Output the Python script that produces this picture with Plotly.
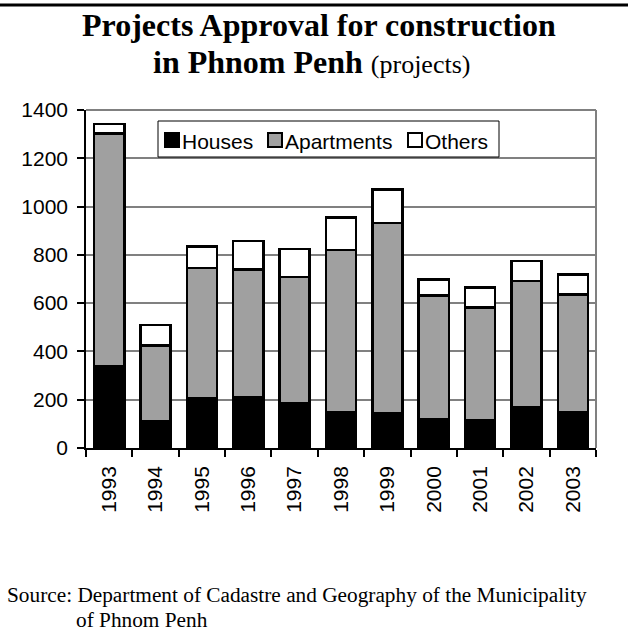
import plotly.graph_objects as go

years = ["1993", "1994", "1995", "1996", "1997", "1998", "1999", "2000", "2001", "2002", "2003"]
houses = [340, 110, 205, 210, 185, 148, 142, 118, 115, 168, 148]
apartments = [963, 315, 540, 530, 523, 673, 790, 514, 467, 524, 487]
others = [40, 85, 90, 118, 116, 133, 138, 65, 82, 82, 84]
y_ticks = [0, 200, 400, 600, 800, 1000, 1200, 1400]
series_names = ["Houses", "Apartments", "Others"]
series_colors = ["black", "#a0a0a0", "white"]

W, H = 628, 642
L, R, T, B = 86, 32, 110, 194
pw, ph = W - L - R, H - T - B


def px_x(x):
    return (x - L) / pw


def px_y(y):
    return (H - B - y) / ph


serif = "Liberation Serif, Times New Roman, serif"
sans = "Liberation Sans, Arial, sans-serif"

line = dict(color="black", width=2.5)
fig = go.Figure()
for name, vals, col in zip(series_names, [houses, apartments, others], series_colors):
    fig.add_trace(go.Bar(x=years, y=vals, name=name, marker=dict(color=col, line=line)))

shapes = [
    dict(type="line", xref="paper", yref="paper", x0=0, x1=1, y0=1, y1=1,
         line=dict(color="#808080", width=2)),
    dict(type="line", xref="paper", yref="paper", x0=1, x1=1, y0=0, y1=1,
         line=dict(color="#808080", width=2)),
    dict(type="line", xref="paper", yref="paper", x0=px_x(0), x1=px_x(W), y0=px_y(5), y1=px_y(5),
         line=dict(color="black", width=3)),
    # legend box
    dict(type="rect", xref="paper", yref="paper", x0=px_x(158), x1=px_x(499), y0=px_y(121), y1=px_y(157),
         line=dict(color="black", width=1), fillcolor="white", layer="above"),
]
annotations = [
    dict(text="<b>Projects Approval for construction</b>", xref="paper", yref="paper",
         x=px_x(319), y=px_y(25), xanchor="center", yanchor="middle", showarrow=False,
         font=dict(family=serif, size=32, color="black")),
    dict(text="<b>in Phnom Penh</b> <span style='font-size:26px'>(projects)</span>",
         xref="paper", yref="paper",
         x=px_x(311), y=px_y(62), xanchor="center", yanchor="middle", showarrow=False,
         font=dict(family=serif, size=32, color="black")),
    dict(text="Source: Department of Cadastre and Geography of the Municipality", xref="paper", yref="paper",
         x=px_x(5), y=px_y(595), xanchor="left", yanchor="middle", showarrow=False,
         font=dict(family=serif, size=21.3, color="black")),
    dict(text="of Phnom Penh", xref="paper", yref="paper",
         x=px_x(74), y=px_y(620), xanchor="left", yanchor="middle", showarrow=False,
         font=dict(family=serif, size=21.3, color="black")),
]

# custom legend entries (square + label), matching the original layout
legend_sq_x = [165, 268, 408]
for name, col, sx in zip(series_names, series_colors, legend_sq_x):
    shapes.append(dict(type="rect", xref="paper", yref="paper",
                       x0=px_x(sx), x1=px_x(sx + 14), y0=px_y(133), y1=px_y(147),
                       line=dict(color="black", width=2), fillcolor=col, layer="above"))
    annotations.append(dict(text=name, xref="paper", yref="paper",
                            x=px_x(sx + 15), y=px_y(141), xanchor="left", yanchor="middle",
                            showarrow=False, font=dict(family=sans, size=21, color="black")))

fig.update_layout(
    width=W, height=H,
    margin=dict(l=L, r=R, t=T, b=B, pad=0),
    paper_bgcolor="white", plot_bgcolor="white",
    barmode="stack", bargap=0.35,
    font=dict(family=sans, size=21, color="black"),
    showlegend=False,
    xaxis=dict(
        type="category", showline=True, linecolor="black", linewidth=1.5,
        ticks="outside", tickson="boundaries", ticklen=7, tickcolor="black", tickwidth=1.5,
        tickangle=-90, showgrid=False, ticklabelstandoff=8,
        tickfont=dict(family=sans, size=21, color="black"),
    ),
    yaxis=dict(
        range=[0, 1400], tickvals=y_ticks, showline=True, linecolor="black", linewidth=1.5,
        ticks="outside", ticklen=7, tickcolor="black", tickwidth=1.5,
        showgrid=True, gridcolor="#808080", gridwidth=1.5, zeroline=False,
        ticklabelstandoff=5, tickfont=dict(family=sans, size=21, color="black"),
    ),
    shapes=shapes,
    annotations=annotations,
)

fig.write_html("out.html", config={"displayModeBar": False},
               post_script="document.body.style.margin='0';")
